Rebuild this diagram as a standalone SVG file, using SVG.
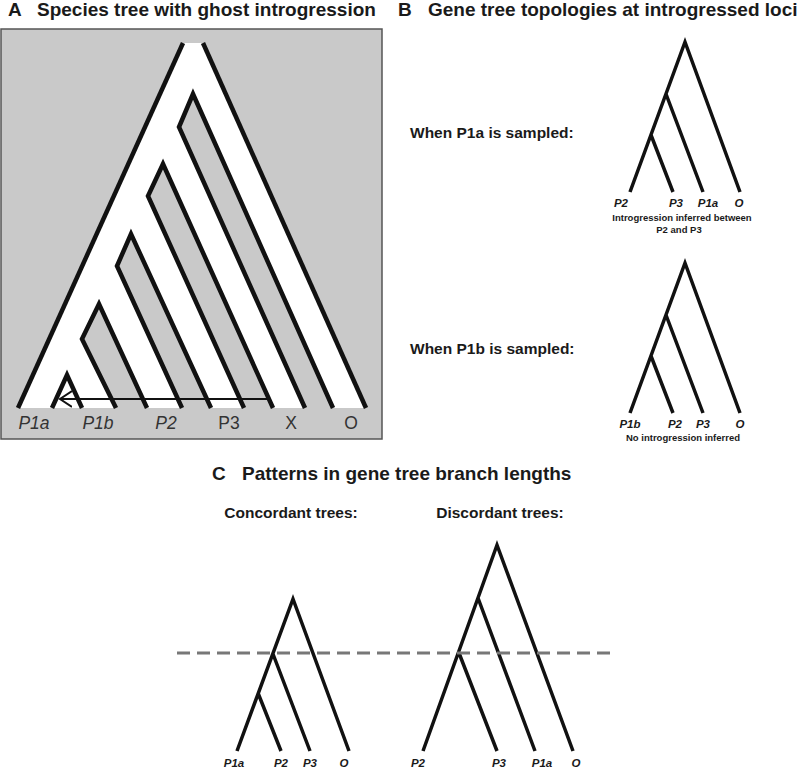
<svg xmlns="http://www.w3.org/2000/svg" width="799" height="768" viewBox="0 0 799 768">
<defs>
<style>
.title{font-family:"Liberation Sans",Arial,sans-serif;font-weight:bold;font-size:19px;fill:#1a1a1a}
.sub{font-family:"Liberation Sans",Arial,sans-serif;font-weight:bold;font-size:15.5px;fill:#1a1a1a}
.tip{font-family:"Liberation Sans",Arial,sans-serif;font-weight:bold;font-style:italic;font-size:11.5px;fill:#1a1a1a;text-anchor:middle}
.note{font-family:"Liberation Sans",Arial,sans-serif;font-weight:bold;font-size:9.5px;fill:#1a1a1a;text-anchor:middle}
.alab{font-family:"Liberation Sans",Arial,sans-serif;font-size:17.5px;fill:#333;text-anchor:middle}
.it{font-style:italic}
.branch{fill:none;stroke:#111;stroke-width:3.5;stroke-linejoin:miter}
.tube{fill:none;stroke:#111;stroke-width:4.5;stroke-linejoin:miter}
.gap{fill:#c9c9c9;stroke:none}
</style>
<marker id="chev" viewBox="0 0 14 20" refX="12" refY="10" markerWidth="14" markerHeight="20" markerUnits="userSpaceOnUse" orient="auto">
<path d="M0,2 L12,10 L0,18" fill="none" stroke="#111" stroke-width="2"/>
</marker>
</defs>

<g id="titles">
<text class="title" x="8" y="16">A</text>
<text class="title" x="37" y="16">Species tree with ghost introgression</text>
<text class="title" x="398" y="16">B</text>
<text class="title" x="428" y="16">Gene tree topologies at introgressed loci</text>
<text class="title" x="212" y="480">C</text>
<text class="title" x="242" y="480">Patterns in gene tree branch lengths</text>
</g>

<g id="panelA">
<rect x="1" y="29" width="381" height="410" fill="#c9c9c9" stroke="#555" stroke-width="1.5"/>
<polygon points="18,408 183,43 203,43 366,408" fill="#fff"/>
<polygon class="gap" points="305,408 179,127 193,94 333,408"/>
<polygon class="gap" points="244,408 148,196 163,164 273,408"/>
<polygon class="gap" points="182,408 117,266 131,234 211,408"/>
<polygon class="gap" points="116,408 82,339 99,304 147,408"/>
<polyline class="tube" points="18,408 183,43"/>
<polyline class="tube" points="203,43 366,408"/>
<polyline class="tube" points="305,408 179,127 193,94 333,408"/>
<polyline class="tube" points="244,408 148,196 163,164 273,408"/>
<polyline class="tube" points="182,408 117,266 131,234 211,408"/>
<polyline class="tube" points="116,408 82,339 99,304 147,408"/>
<polyline class="tube" points="52,408 67,375 82,408"/>
<line id="ghost-arrow" x1="267" y1="399" x2="60" y2="399" stroke="#111" stroke-width="2" marker-end="url(#chev)"/>
<text class="alab it" x="34" y="429">P1a</text>
<text class="alab it" x="98" y="429">P1b</text>
<text class="alab it" x="166" y="429">P2</text>
<text class="alab" x="229" y="429">P3</text>
<text class="alab" x="291" y="429">X</text>
<text class="alab" x="351" y="429">O</text>
</g>

<g id="panelB">
<text class="sub" x="410" y="138">When P1a is sampled:</text>
<text class="sub" x="410" y="354">When P1b is sampled:</text>
<g id="treeB1">
<path class="branch" d="M630,192 L685,42 L740,192 M666,94 L703,192 M651,135 L673,192"/>
<text class="tip" x="621" y="207">P2</text>
<text class="tip" x="676" y="207">P3</text>
<text class="tip" x="708" y="207">P1a</text>
<text class="tip" x="739" y="207">O</text>
<text class="note" x="682" y="221">Introgression inferred between</text>
<text class="note" x="679" y="233">P2 and P3</text>
</g>
<g id="treeB2">
<path class="branch" d="M630,413 L685,263 L740,413 M666,315 L703,413 M651,356 L673,413"/>
<text class="tip" x="630" y="428">P1b</text>
<text class="tip" x="675" y="428">P2</text>
<text class="tip" x="703" y="428">P3</text>
<text class="tip" x="740" y="428">O</text>
<text class="note" x="683" y="441">No introgression inferred</text>
</g>
</g>

<g id="panelC">
<text class="sub" x="291" y="518" text-anchor="middle">Concordant trees:</text>
<text class="sub" x="500" y="518" text-anchor="middle">Discordant trees:</text>
<g id="treeConcordant">
<path class="branch" d="M237,751 L293,599 L349,751 M273,654 L310,751 M258,693 L281,751"/>
<text class="tip" x="234" y="767">P1a</text>
<text class="tip" x="281" y="767">P2</text>
<text class="tip" x="310" y="767">P3</text>
<text class="tip" x="344" y="767">O</text>
</g>
<g id="treeDiscordant">
<path class="branch" d="M423,751 L497,545 L573,751 M478,598 L535,751 M459,653 L497,751"/>
<text class="tip" x="418" y="767">P2</text>
<text class="tip" x="499" y="767">P3</text>
<text class="tip" x="542" y="767">P1a</text>
<text class="tip" x="576" y="767">O</text>
</g>
<line id="time-line" x1="177" y1="653" x2="613" y2="653" stroke="#777" stroke-width="3" stroke-dasharray="13 7"/>
</g>
</svg>
